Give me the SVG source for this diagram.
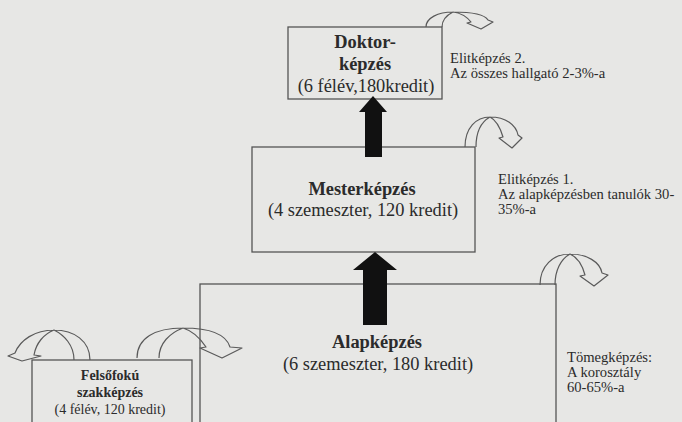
<svg xmlns="http://www.w3.org/2000/svg" width="682" height="422" viewBox="0 0 682 422">
<style>
.bg{fill:#e7e7e5}
.box{fill:none;stroke:#555;stroke-width:1.3}
.curve{fill:none;stroke:#5a5a5a;stroke-width:1.2;stroke-linejoin:round}
.up{fill:#111}
text{font-family:"Liberation Serif","Times New Roman","DejaVu Serif",serif;fill:#2b2b2b}
.b{font-weight:bold}
.c{text-anchor:middle}
.l18{font-size:18.4px}
.l14{font-size:14px}
.n{font-size:14.6px}
</style>
<rect class="bg" x="0" y="0" width="682" height="422"/>

<g id="alapkepzes">
<rect class="box" x="200" y="284" width="356" height="150"/>
<text class="b c l18" x="377" y="348">Alapképzés</text>
<text class="c l18" x="378" y="370">(6 szemeszter, 180 kredit)</text>
</g>

<g id="felsofoku">
<rect class="box" x="32" y="360" width="160" height="80"/>
<text class="b c l14" x="110" y="380">Felsőfokú</text>
<text class="b c l14" x="110" y="397">szakképzés</text>
<text class="c l14" x="110" y="414">(4 félév, 120 kredit)</text>
</g>

<g id="mesterkepzes">
<rect class="box" x="252" y="147" width="223" height="105"/>
<text class="b c l18" x="362" y="195">Mesterképzés</text>
<text class="c l18" x="363" y="216">(4 szemeszter, 120 kredit)</text>
</g>

<g id="doktorkepzes">
<rect class="box" x="288" y="27" width="154" height="72"/>
<text class="b c l18" x="365" y="48">Doktor-</text>
<text class="b c l18" x="365" y="70">képzés</text>
<text class="c l18" x="366" y="92">(6 félév,180kredit)</text>
</g>

<g id="elit2">
<text class="n" x="450" y="63">Elitképzés 2.</text>
<text class="n" x="450" y="78">Az összes hallgató 2-3%-a</text>
</g>
<g id="elit1">
<text class="n" x="498" y="184">Elitképzés 1.</text>
<text class="n" x="498" y="199">Az alapképzésben tanulók 30-</text>
<text class="n" x="498" y="214">35%-a</text>
</g>
<g id="tomeg">
<text class="n" x="567" y="362">Tömegképzés:</text>
<text class="n" x="567" y="377">A korosztály</text>
<text class="n" x="567" y="392">60-65%-a</text>
</g>

<g id="connectors">
<path class="up" d="M373,96 L387,112 L382,112 L382,157 L365,157 L365,112 L359,112 Z"/>
<path class="up" d="M375,252 L397,270 L387,270 L387,325 L363,325 L363,270 L353,270 Z"/>
<path class="curve" d="M426,27 C426,18 438,12 453,12 C472,12 485,15 488,20 L493,22 L481,29 L467,23 L471,22 C467,17 461,13 453,12 C447,15 442,20 442,27"/>
<path class="curve" d="M465,147 C465,128 476,117 490,117 C506,117 516,125 518,135 L522,138 L512,148 L499,138 L503,137 C500,127 496,120 490,117 C481,122 476,133 476,147"/>
<path class="curve" d="M540,285 C540,266 553,254 570,254 C587,254 600,262 602,273 L608,275 L594,286 L580,276 L585,275 C582,264 577,257 570,254 C561,259 555,270 555,285"/>
<path class="curve" d="M90,360 C90,341 74,330 54,330 C35,330 20,340 15,353 L8,356 L22,361 L41,356 L34,355 C36,343 44,334 54,330 C64,335 74,345 74,360"/>
<path class="curve" d="M137,358 C137,338 155,328 183,328 C208,328 226,334 230,347 L242,348 L222,358 L200,348 L206,347 C200,338 193,331 183,328 C170,333 159,343 159,358"/>
</g>
</svg>
